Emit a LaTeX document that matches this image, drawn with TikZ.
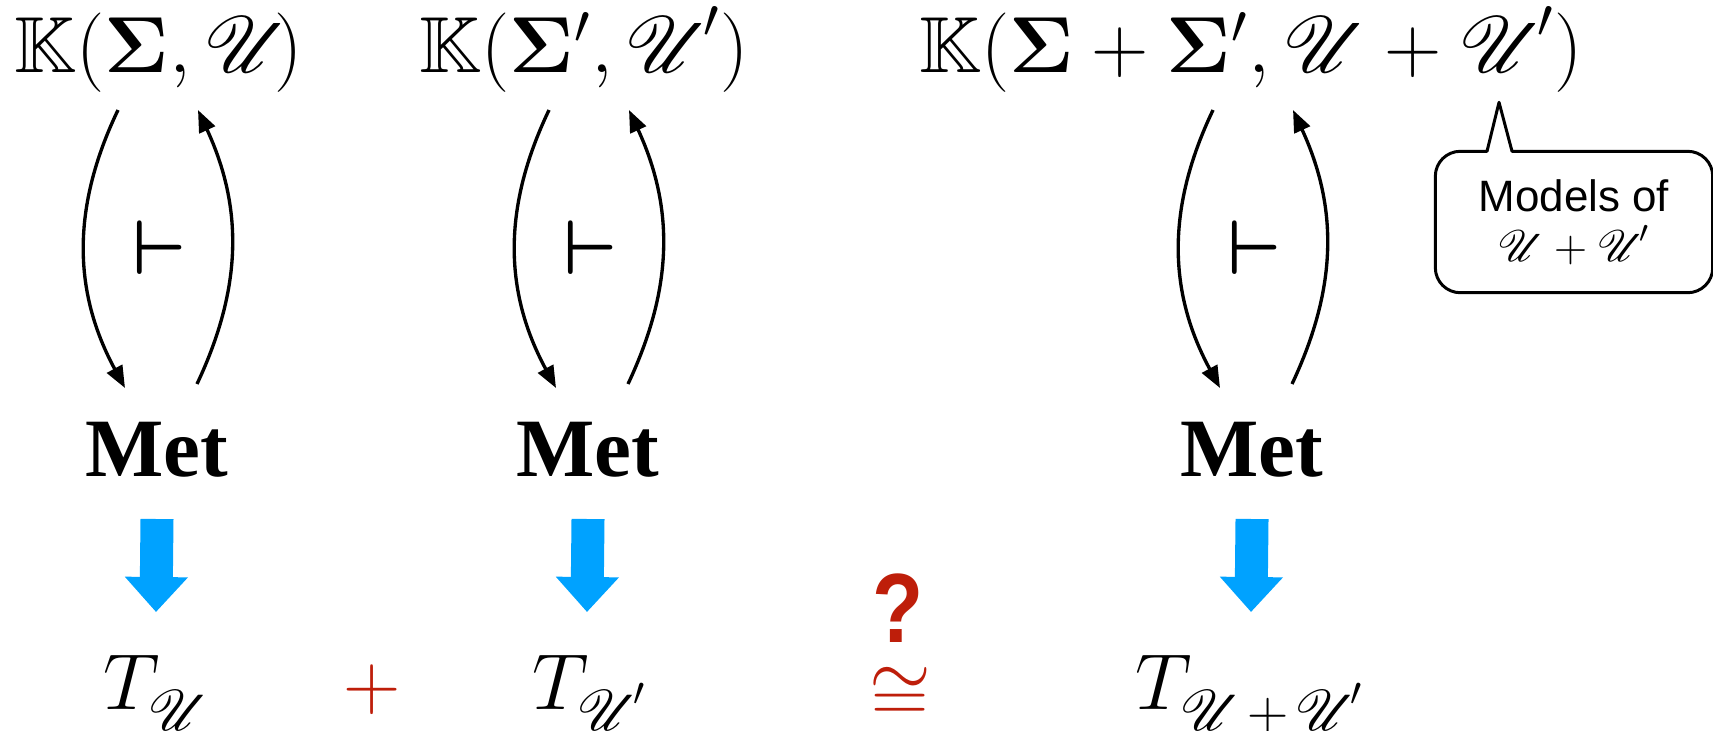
\documentclass[tikz,border=0pt]{standalone}
\usepackage{fix-cm}
\usepackage{amsmath}
\usepackage{amssymb}
\usepackage{mathrsfs}
\usepackage[no-math]{fontspec}
\newfontfamily\metfont{Liberation Serif}
\newfontfamily\notefont{Liberation Sans}
\usetikzlibrary{arrows.meta}
\definecolor{arrowblue}{RGB}{0,162,255}
\definecolor{darkred}{RGB}{190,30,10}
% scalable blackboard and script letters
\DeclareFontFamily{U}{rsfs}{\skewchar\font127 }
\DeclareFontShape{U}{rsfs}{m}{n}{<-6> rsfs5 <6-8.5> rsfs7 <8.5-> rsfs10}{}
\DeclareFontFamily{U}{msb}{}
\DeclareFontShape{U}{msb}{m}{n}{<-6> msbm5 <6-8.5> msbm7 <8.5-> msbm10}{}
\DeclareMathSizes{22.6}{22.6}{15.8}{11.3}
\newcommand{\smallscr}[1]{\raisebox{-0.12em}{\scalebox{0.72}{$#1$}}}
\newcommand{\Uprime}{{\mathscr{U}\mkern-1.5mu}'}

\begin{document}
\begin{tikzpicture}[
    big/.style={font=\fontsize{22.6}{27}\selectfont, inner sep=0pt, anchor=base},
    metlabel/.style={font=\fontsize{23.6}{28}\selectfont\metfont\bfseries, inner sep=0pt, anchor=base},
    adjoint/.style={line width=0.95pt, -{Triangle[length=0.22cm,width=0.17cm]}},
    turn/.style={font=\fontsize{22}{26}\selectfont, inner sep=0pt},
    down/.style={arrowblue, line width=0.33cm, -{Triangle[length=0.35cm,width=0.61cm]}},
    redsym/.style={darkred, font=\fontsize{22.6}{27}\selectfont, inner sep=0pt, anchor=base},
    note/.style={font=\fontsize{12.5}{14.2}\selectfont, align=center, inner sep=0pt,
                 minimum width=2.76cm, minimum height=1.40cm}
  ]
  \useasboundingbox (0,0) rectangle (17.13,-7.30);

  % categories of models
  \node[big] (k1) at (1.59,-0.72)  {$\mathbb{K}(\mathbf{\Sigma},\mathscr{U}\mkern-3mu)$};
  \node[big] (k2) at (5.84,-0.72)  {$\mathbb{K}(\mathbf{\Sigma}',\Uprime)$};
  \node[big] (k3) at (12.51,-0.72) {$\mathbb{K}(\mathbf{\Sigma}+\mathbf{\Sigma}',\mathscr{U}+\Uprime)$};

  % Met
  \node[metlabel] (met1) at (1.57,-4.76)  {Met};
  \node[metlabel] (met2) at (5.88,-4.76)  {Met};
  \node[metlabel] (met3) at (12.52,-4.76) {Met};

  % turnstiles
  \node[turn] (vd1) at (1.60,-2.48)  {$\boldsymbol{\vdash}$};
  \node[turn] (vd2) at (5.91,-2.48)  {$\boldsymbol{\vdash}$};
  \node[turn] (vd3) at (12.55,-2.48) {$\boldsymbol{\vdash}$};

  % monads
  \node[big] (t1) at (1.57,-7.09)  {$T_{\smallscr{\mathscr{U}}}$};
  \node[big] (t2) at (5.90,-7.09)  {$T_{\smallscr{\Uprime}}$};
  \node[big] (t3) at (12.50,-7.09) {$T_{\smallscr{\mathscr{U}\mkern-2mu+\mkern-2mu\Uprime}}$};

  \foreach \c in {1,2,3} {
    \draw[adjoint] ([xshift=-0.39cm]met\c.base |- 0,-1.10) to[bend right=27]
                   ([xshift=-0.32cm,yshift=0.88cm]met\c.base);
    \draw[adjoint] ([xshift=0.40cm,yshift=0.92cm]met\c.base) to[bend right=25]
                   ([xshift=0.41cm]met\c.base |- 0,-1.10);
    \draw[down] ([yshift=-0.43cm]met\c.base) -- ([xshift=-0.01cm,yshift=0.97cm]met\c.base |- t\c.base);
  }

  % sum and the question
  \node[redsym] (plus) at (3.72,-7.09) {$+$};
  \node[redsym] (iso) at (9.00,-7.21) {$\cong$};
  \node[darkred, inner sep=0pt, font=\fontsize{28}{32}\selectfont\notefont\bfseries] (qm) at (8.98,-6.08) {\scalebox{0.85}[1]{?}};

  % callout
  \node[note] (note) at (15.74,-2.22) {\notefont Models of\\$\mathscr{U}+\Uprime$};
  \draw[line width=0.85pt, line join=round]
    ([xshift=-0.62cm]note.north) -- ([xshift=-0.25cm]note.north east)
    arc[start angle=90, end angle=0, radius=0.25cm] -- ([yshift=0.25cm]note.south east)
    arc[start angle=0, end angle=-90, radius=0.25cm] -- ([xshift=0.25cm]note.south west)
    arc[start angle=270, end angle=180, radius=0.25cm] -- ([yshift=-0.25cm]note.north west)
    arc[start angle=180, end angle=90, radius=0.25cm] -- ([xshift=-0.87cm]note.north)
    -- ([xshift=-0.75cm,yshift=0.49cm]note.north) -- cycle;
\end{tikzpicture}
\end{document}
